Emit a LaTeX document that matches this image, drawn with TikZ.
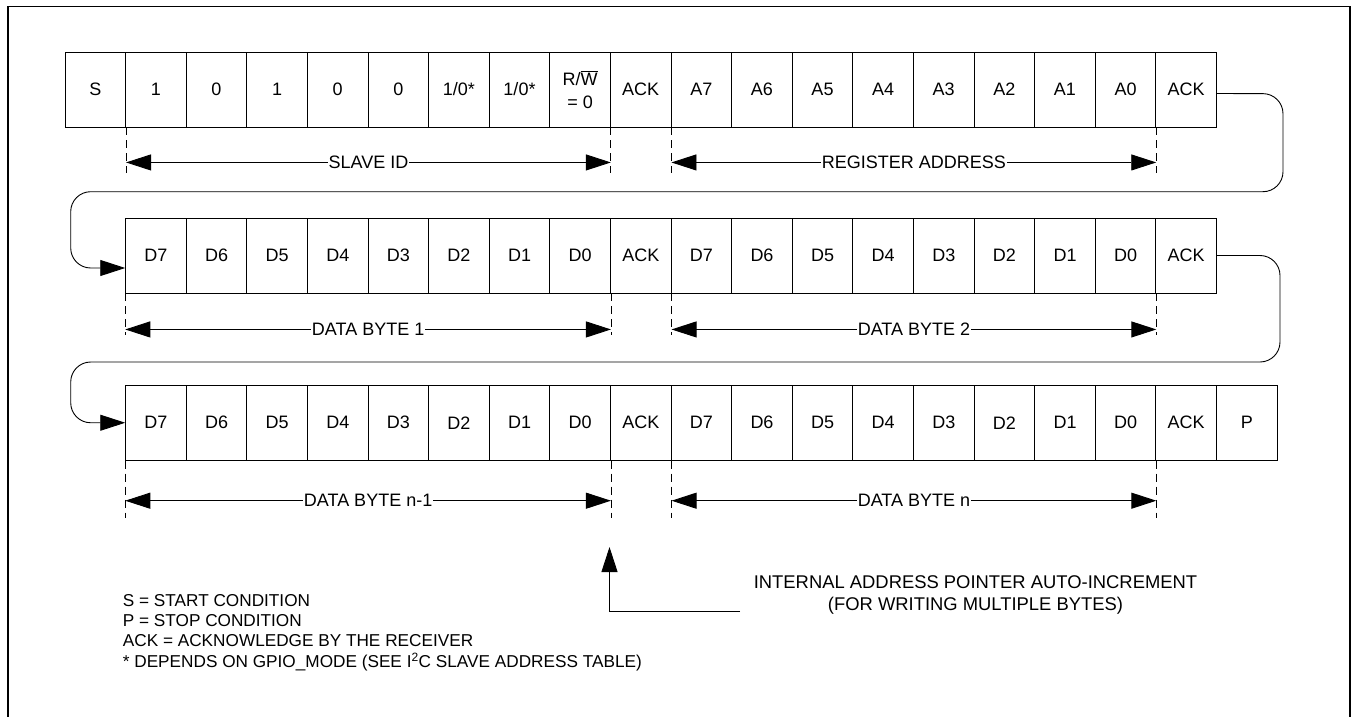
\documentclass[tikz,border=0pt]{standalone}
\usepackage{fontspec}
\setmainfont{Liberation Sans}
\usetikzlibrary{arrows.meta}
\tikzset{
  cell/.style={draw, line width=0.9pt, rectangle, minimum width=60.6pt, minimum height=75pt, inner sep=0pt, font=\fontsize{18}{21}\selectfont, align=center},
  dashline/.style={line width=0.9pt, dash pattern=on 8pt off 5pt},
  dim/.style={line width=0.9pt, {Triangle[length=25pt,width=16pt]}-{Triangle[length=25pt,width=16pt]}},
  dimlabel/.style={fill=white, inner xsep=1pt, inner ysep=2pt, font=\fontsize{18}{21}\selectfont},
  flow/.style={line width=0.9pt, rounded corners=20pt, -{Triangle[length=25pt,width=16pt]}},
  legend/.style={anchor=base west, inner sep=0pt, font=\fontsize{17.2}{20}\selectfont},
}
\begin{document}
\begin{tikzpicture}[x=1pt, y=-1pt]
\useasboundingbox (0,0) rectangle (1353,717);
\draw[line width=1.2pt] (8,720) -- (8,6.5) -- (1350,6.5) -- (1350,720);
% row 1
\foreach \t [count=\i from 0] in {S,1,0,1,0,0,1/0*,1/0*,{R/$\overline{\mbox{W}}$\\[2pt]= 0},ACK,A7,A6,A5,A4,A3,A2,A1,A0,ACK}
  \node[cell] (r1c\i) at (65+30.3+\i*60.6, 89.5) {\t};
% row 2
\foreach \t [count=\i from 0] in {D7,D6,D5,D4,D3,D2,D1,D0,ACK,D7,D6,D5,D4,D3,D2,D1,D0,ACK}
  \node[cell] (r2c\i) at (125.7+30.3+\i*60.6, 255.5) {\t};
% row 3
\foreach \t [count=\i from 0] in {D7,D6,D5,D4,D3,D2,D1,D0,ACK,D7,D6,D5,D4,D3,D2,D1,D0,ACK,P}
  \node[cell] (r3c\i) at (125.7+30.3+\i*60.6, 422.75) {\t};
% dashed extension lines
\foreach \c in {0,8,9,17} \draw[dashline] (r1c\c.south east) -- ++(0,46);
\draw[dashline] (r2c0.south west) -- ++(0,42);
\draw[dashline] (r2c7.south east) -- ++(0,42);
\draw[dashline] (r2c8.south east) -- ++(0,42);
\draw[dashline] (r2c16.south east) -- ++(0,42);
\draw[dashline] (r3c0.south west) -- ++(0,57);
\draw[dashline] (r3c7.south east) -- ++(0,57);
\draw[dashline] (r3c8.south east) -- ++(0,57);
\draw[dashline] (r3c16.south east) -- ++(0,57);
% dimension arrows
\draw[dim] ([yshift=-35pt]r1c0.south east) -- ([yshift=-35pt]r1c8.south east) node[midway, dimlabel] {SLAVE ID};
\draw[dim] ([yshift=-35pt]r1c9.south east) -- ([yshift=-35pt]r1c17.south east) node[midway, dimlabel] {REGISTER ADDRESS};
\draw[dim] ([yshift=-36pt]r2c0.south west) -- ([yshift=-36pt]r2c7.south east) node[midway, dimlabel] {DATA BYTE 1};
\draw[dim] ([yshift=-36pt]r2c8.south east) -- ([yshift=-36pt]r2c16.south east) node[midway, dimlabel] {DATA BYTE 2};
\draw[dim] ([yshift=-40pt]r3c0.south west) -- ([yshift=-40pt]r3c7.south east) node[midway, dimlabel] {DATA BYTE n-1};
\draw[dim] ([yshift=-40pt]r3c8.south east) -- ([yshift=-40pt]r3c16.south east) node[midway, dimlabel] {DATA BYTE n};
% wrap connectors
\draw[flow] ([yshift=-4pt]r1c18.east) -- (1283,93.7) -- (1283,191.7) -- (70.7,191.7) -- (70.7,268) -- ([yshift=-12.5pt]r2c0.west);
\draw[flow] (r2c17.east) -- (1280,255.5) -- (1280,362) -- (70.7,362) -- (70.7,422.75) -- (r3c0.west);
% pointer note
\node[font=\fontsize{18.4}{22}\selectfont, align=center, anchor=base] (note) at (975.5,610) {INTERNAL ADDRESS POINTER AUTO-INCREMENT\\(FOR WRITING MULTIPLE BYTES)};
\coordinate (ptr) at (740,611);
\coordinate (tip) at (609.5,547);
\draw[line width=0.9pt, -{Triangle[length=25pt,width=16pt]}] (ptr) -- (609.5,611) -- (tip);
% legend
\node[legend] (l1) at (122.7,606.7) {S = START CONDITION};
\node[legend] (l2) at (122.7,626.7) {P = STOP CONDITION};
\node[legend] (l3) at (122.7,646.7) {ACK = ACKNOWLEDGE BY THE RECEIVER};
\node[legend] (l4) at (122.7,667.3) {* DEPENDS ON GPIO\_MODE (SEE I\textsuperscript{2}C SLAVE ADDRESS TABLE)};
\end{tikzpicture}
\end{document}
